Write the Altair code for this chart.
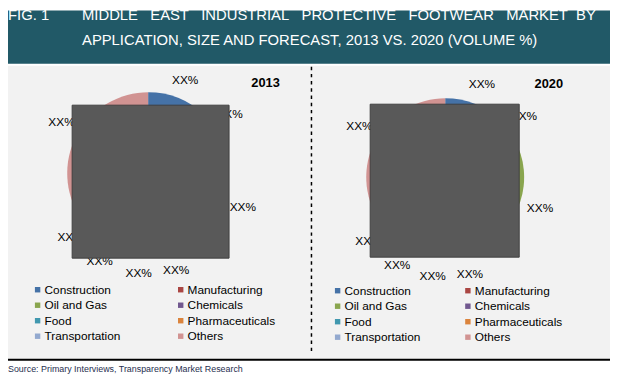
import altair as alt
import pandas as pd

categories = ["Construction", "Manufacturing", "Oil and Gas", "Chemicals",
              "Food", "Pharmaceuticals", "Transportation", "Others"]
share_2013 = [12, 6, 25, 5, 7, 6, 6, 33]
share_2020 = [12, 5, 26, 6, 6, 6, 6, 33]
labels_2013 = ["XX%", "XX%", "XX%", "XX%", "XX%", "XX%", "XX%", "XX%"]
labels_2020 = ["XX%", "XX%", "XX%", "XX%", "XX%", "XX%", "XX%", "XX%"]
palette = ["#4572A7", "#AA4643", "#89A54E", "#71588F",
           "#4198AF", "#DB843D", "#93A9CF", "#D19392"]

FONT = "Liberation Sans, Arial, sans-serif"
NB = "\u00a0"
title_words = ["MIDDLE", "EAST", "INDUSTRIAL", "PROTECTIVE", "FOOTWEAR", "MARKET", "BY"]
gaps = [3, 3, 3, 3, 3, 2]
title_line1 = title_words[0] + "".join(NB * g + w for g, w in zip(gaps, title_words[1:]))
title_line2 = "APPLICATION, SIZE AND FORECAST, 2013 VS. 2020 (VOLUME %)"

df13 = pd.DataFrame({"category": categories, "share": share_2013,
                     "order": list(range(len(categories))), "label": labels_2013})
df20 = pd.DataFrame({"category": categories, "share": share_2020,
                     "order": list(range(len(categories))), "label": labels_2020})

one = alt.Data(values=[{}])
W, H = 610, 372


def rect(x, x2, y, y2, fill, stroke=None, sw=0):
    kw = dict(fill=fill, strokeWidth=sw)
    if stroke:
        kw["stroke"] = stroke
    return alt.Chart(one).mark_rect(**kw).encode(
        x=alt.value(x), x2=alt.value(x2), y=alt.value(y), y2=alt.value(y2))


def label(txt, x, y, size, color="black", weight="normal", align="left", baseline="middle"):
    return alt.Chart(one).mark_text(font=FONT, fontSize=size, color=color, fontWeight=weight,
                                    align=align, baseline=baseline).encode(
        x=alt.value(x), y=alt.value(y), text=alt.value(txt))


def legend(x, y, colpad):
    return alt.Legend(orient="none", legendX=x, legendY=y, columns=2, direction="horizontal",
                      title=None, symbolType="square", symbolSize=30, symbolStrokeWidth=0,
                      labelFont=FONT, labelFontSize=12, labelColor="black",
                      labelOffset=1, rowPadding=3.7, columnPadding=colpad,
                      gridAlign="each", padding=0)


def pie(df, cx, cy, r, lr, leg):
    base = alt.Chart(df).encode(
        theta=alt.Theta("share:Q", stack=True),
        order=alt.Order("order:Q"),
        x=alt.value(cx), y=alt.value(cy))
    arcs = base.mark_arc(outerRadius=r).encode(
        color=alt.Color("category:N", sort=categories,
                        scale=alt.Scale(domain=categories, range=palette), legend=leg))
    txt = base.mark_text(radius=lr, font=FONT, fontSize=12, color="black").encode(
        text="label:N", detail="category:N")
    return arcs, txt


arcs13, txt13 = pie(df13, 142, 165, 82, 102, legend(24, 277, 55))
arcs20, txt20 = pie(df20, 443, 169, 80, 101, legend(328, 278, 42))

layers = [
    rect(0, W, 0, 54, "#215967"),
    rect(0, W, 56, 353, "#F2F2F2"),
    arcs13, arcs20, txt13, txt20,
    rect(65, 224, 96, 251, "#595959", "#404040", 1),
    rect(367, 518, 95, 250, "#595959", "#404040", 1),
    alt.Chart(one).mark_rule(color="black", strokeWidth=1.5, strokeDash=[3.5, 3.8]).encode(
        x=alt.value(307.5), y=alt.value(57), y2=alt.value(345)),
    rect(0, W, 353, 355, "black"),
    label("2013", 261, 74, 13, weight="bold", align="center"),
    label("2020", 548, 75, 13, weight="bold", align="center"),
    label("FIG. 1", 0, 9.3, 15, color="white", baseline="alphabetic"),
    label(title_line1, 75, 9.3, 15, color="white", baseline="alphabetic"),
    label(title_line2, 75, 35.3, 15, color="white", baseline="alphabetic"),
    label("Source: Primary Interviews, Transparency Market Research", 0, 363, 9, color="#1F2F4F"),
]

chart = alt.layer(*layers).resolve_scale(color="independent").properties(
    width=W, height=H, padding=0, autosize=alt.AutoSizeParams(type="none"),
    background="white"
).configure_view(stroke=None)

chart.save("out.html", embed_options={"renderer": "svg", "actions": False})
